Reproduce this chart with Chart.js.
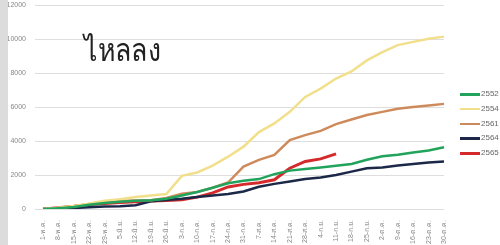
<!DOCTYPE html>
<html>
<head>
<meta charset="utf-8">
<script src="https://cdn.jsdelivr.net/npm/chart.js@4"></script>
<style>
  html, body { margin: 0; padding: 0; background: #fff; }
  #wrap { position: relative; width: 500px; height: 245px; overflow: hidden; }
  #strip { position: absolute; left: 0; top: 0; width: 8px; height: 245px; background: #dcdcdc; }
  #box { position: absolute; left: 8px; top: -8px; width: 492px; height: 253px; }
  #title { position: absolute; left: 84px; top: 25px; font-family: "Noto Sans", "DejaVu Sans", sans-serif;
           font-size: 31px; color: #222; font-weight: 300; transform: scaleX(0.86); transform-origin: left top; }
  #legend { position: absolute; left: 460px; top: 87px; font-family: "Liberation Sans", sans-serif;
            font-size: 8px; color: #666; }
  .item { position: relative; height: 14.8px; white-space: nowrap; }
  .swatch { position: absolute; left: 0; top: 6px; width: 20px; height: 2.5px; }
  .txt { position: absolute; left: 21px; top: 2px; }
</style>
</head>
<body>
<div id="wrap">
  <div id="box"><canvas id="chart" width="492" height="253"></canvas></div>
  <div id="strip"></div>
  <div id="title">ไหลลง</div>
  <div id="legend"></div>
</div>
<script>
const labels = ["1-พ.ค.", "8-พ.ค.", "15-พ.ค.", "22-พ.ค.", "29-พ.ค.", "5-มิ.ย.", "12-มิ.ย.", "19-มิ.ย.", "26-มิ.ย.",
  "3-ก.ค.", "10-ก.ค.", "17-ก.ค.", "24-ก.ค.", "31-ก.ค.", "7-ส.ค.", "14-ส.ค.", "21-ส.ค.", "28-ส.ค.",
  "4-ก.ย.", "11-ก.ย.", "18-ก.ย.", "25-ก.ย.", "2-ต.ค.", "9-ต.ค.", "16-ต.ค.", "23-ต.ค.", "30-ต.ค."];

const y2552 = [0, 50, 120, 250, 350, 420, 480, 520, 600, 800, 1000, 1250, 1520, 1660, 1760, 2050,
  2260, 2350, 2450, 2550, 2650, 2900, 3100, 3200, 3330, 3450, 3640];
const y2554 = [0, 80, 170, 330, 480, 580, 700, 800, 880, 1950, 2150, 2550, 3080, 3670, 4530, 5040,
  5720, 6600, 7090, 7680, 8100, 8750, 9240, 9650, 9840, 10020, 10150];
const y2561 = [0, 60, 150, 300, 420, 470, 500, 520, 650, 900, 1000, 1250, 1560, 2500, 2890, 3180,
  4060, 4350, 4600, 5000, 5270, 5530, 5720, 5900, 6000, 6090, 6190];
const y2564 = [0, 30, 60, 100, 140, 160, 220, 450, 530, 600, 700, 800, 880, 1030, 1310, 1480,
  1620, 1760, 1850, 2000, 2200, 2400, 2450, 2560, 2650, 2740, 2800];
const y2565 = [0, 80, 160, 270, 330, 380, 420, 470, 500, 550, 700, 950, 1300, 1450, 1550, 1720,
  2400, 2800, 2950, 3250, null, null, null, null, null, null, null];

const yTicks = [0, 2000, 4000, 6000, 8000, 10000, 12000];

const series = [
  { label: "2552", data: y2552, color: "#21a35c", width: 2.5 },
  { label: "2554", data: y2554, color: "#f2df8c", width: 2.5 },
  { label: "2561", data: y2561, color: "#cf8a5c", width: 2.5 },
  { label: "2564", data: y2564, color: "#1c2848", width: 2.5 },
  { label: "2565", data: y2565, color: "#d42a2c", width: 3 }
];

// legend drawn as html so it can sit close to the plot like the original
const legendEl = document.getElementById("legend");
series.forEach(s => {
  const row = document.createElement("div");
  row.className = "item";
  row.innerHTML = `<span class="swatch" style="background:${s.color}"></span><span class="txt">${s.label}</span>`;
  legendEl.appendChild(row);
});

new Chart(document.getElementById("chart"), {
  type: "line",
  data: {
    labels: labels,
    datasets: series.map(s => ({
      label: s.label,
      data: s.data,
      borderColor: s.color,
      backgroundColor: s.color,
      borderWidth: s.width,
      pointRadius: 0,
      tension: 0,
      fill: false
    }))
  },
  options: {
    responsive: false,
    animation: false,
    layout: { padding: { left: 0, top: 0, right: 56, bottom: 0 } },
    plugins: {
      legend: { display: false },
      tooltip: { enabled: false }
    },
    scales: {
      x: {
        afterFit: axis => { axis.height = 36; },
        grid: { display: false },
        border: { display: false },
        ticks: {
          autoSkip: false,
          minRotation: 90,
          maxRotation: 90,
          color: "#888",
          font: { size: 7, family: "Liberation Sans" }
        }
      },
      y: {
        min: 0,
        max: 12000,
        afterBuildTicks: axis => { axis.ticks = yTicks.map(v => ({ value: v })); },
        afterFit: axis => { axis.width = 35; },
        grid: { color: "#dedede", lineWidth: 1 },
        border: { display: false },
        ticks: {
          padding: 9,
          color: "#888",
          font: { size: 7, family: "Liberation Sans" },
          callback: v => String(v)
        }
      }
    }
  }
});
</script>
</body>
</html>
